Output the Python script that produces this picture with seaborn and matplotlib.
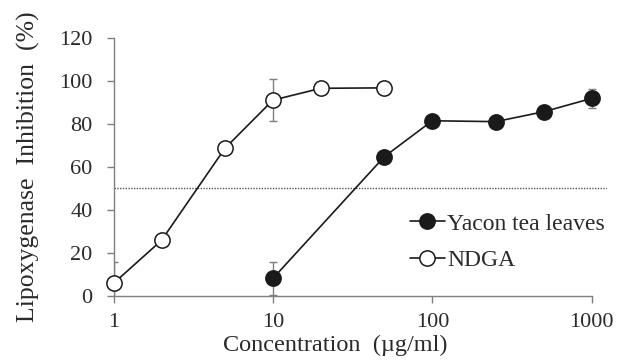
import numpy as np
import pandas as pd
import matplotlib
matplotlib.use("Agg")
import matplotlib.pyplot as plt
import seaborn as sns

# values
yacon_conc = [10, 50, 100, 250, 500, 1000]
yacon_inhib = [8.1, 64.7, 81.4, 81.0, 85.6, 91.8]
yacon_err = [7.5, 1.5, 2.5, 1.5, 2.0, 4.5]

ndga_conc = [1, 2, 5, 10, 20, 50]
ndga_inhib = [5.8, 25.8, 68.6, 91.0, 96.5, 96.7]
ndga_err = [10.0, 1.5, 2.0, 9.7, 1.0, 1.0]

x_ticks = [1, 10, 100, 1000]
y_ticks = [0, 20, 40, 60, 80, 100, 120]
ic50_line = 50

sns.set_style("ticks")
plt.rcParams['font.family'] = ['Liberation Serif', 'DejaVu Serif']

df = pd.concat([
    pd.DataFrame({"conc": yacon_conc, "inhib": yacon_inhib, "err": yacon_err, "sample": "Yacon tea leaves"}),
    pd.DataFrame({"conc": ndga_conc, "inhib": ndga_inhib, "err": ndga_err, "sample": "NDGA"}),
])

fig = plt.figure(figsize=(6.17, 3.63), dpi=100)
ax = fig.add_axes([0.184, 0.185, 0.80, 0.711])

grey = "#7f7f7f"
ink = "#1a1a1a"
txt = "#2a2a2a"

# error bars first so markers sit on top
for name, sub in df.groupby("sample"):
    ax.errorbar(sub["conc"], sub["inhib"], yerr=sub["err"], fmt="none",
                ecolor=grey, elinewidth=1, capsize=3, capthick=1, zorder=2)

styles = {"Yacon tea leaves": ink, "NDGA": "white"}
for name in ["Yacon tea leaves", "NDGA"]:
    sub = df[df["sample"] == name]
    sns.lineplot(data=sub, x="conc", y="inhib", ax=ax, color=ink, linewidth=1.2,
                 marker="o", markersize=11, markerfacecolor=styles[name],
                 markeredgecolor=ink, markeredgewidth=1.1, label=name,
                 zorder=3, clip_on=False)

ax.axhline(ic50_line, color="#555555", linestyle=(0, (1, 1)), linewidth=1, zorder=1)

ax.set_xscale("log")
ax.set_xlim(1, 1250)
ax.set_ylim(0, 120)
ax.set_xticks(x_ticks)
ax.set_xticklabels([str(t) for t in x_ticks])
ax.xaxis.set_minor_locator(matplotlib.ticker.NullLocator())
ax.set_yticks(y_ticks)

sns.despine(ax=ax)
ax.spines["bottom"].set_bounds(1, 1000)
for s in ["left", "bottom"]:
    ax.spines[s].set_color(grey)
    ax.spines[s].set_linewidth(1)
ax.tick_params(axis="both", colors=grey, labelcolor=txt, labelsize=16,
               length=5, width=1, direction="out")
ax.tick_params(axis="x", pad=7)
ax.tick_params(axis="y", pad=10)

ax.set_xlabel("Concentration  (µg/ml)", fontsize=17.5, color=txt, labelpad=0)
ax.xaxis.set_label_coords(0.449, -0.15, transform=ax.transAxes)
ax.set_ylabel("Lipoxygenase  Inhibition  (%)", fontsize=18.5, color=txt, labelpad=14)

leg = ax.legend(loc="lower right", bbox_to_anchor=(1.015, 0.058), frameon=False,
                fontsize=17, handlelength=1.5, handletextpad=0.1, labelspacing=0.65,
                borderaxespad=0)
for t in leg.get_texts():
    t.set_color(txt)

fig.savefig("out.png", dpi=100)
